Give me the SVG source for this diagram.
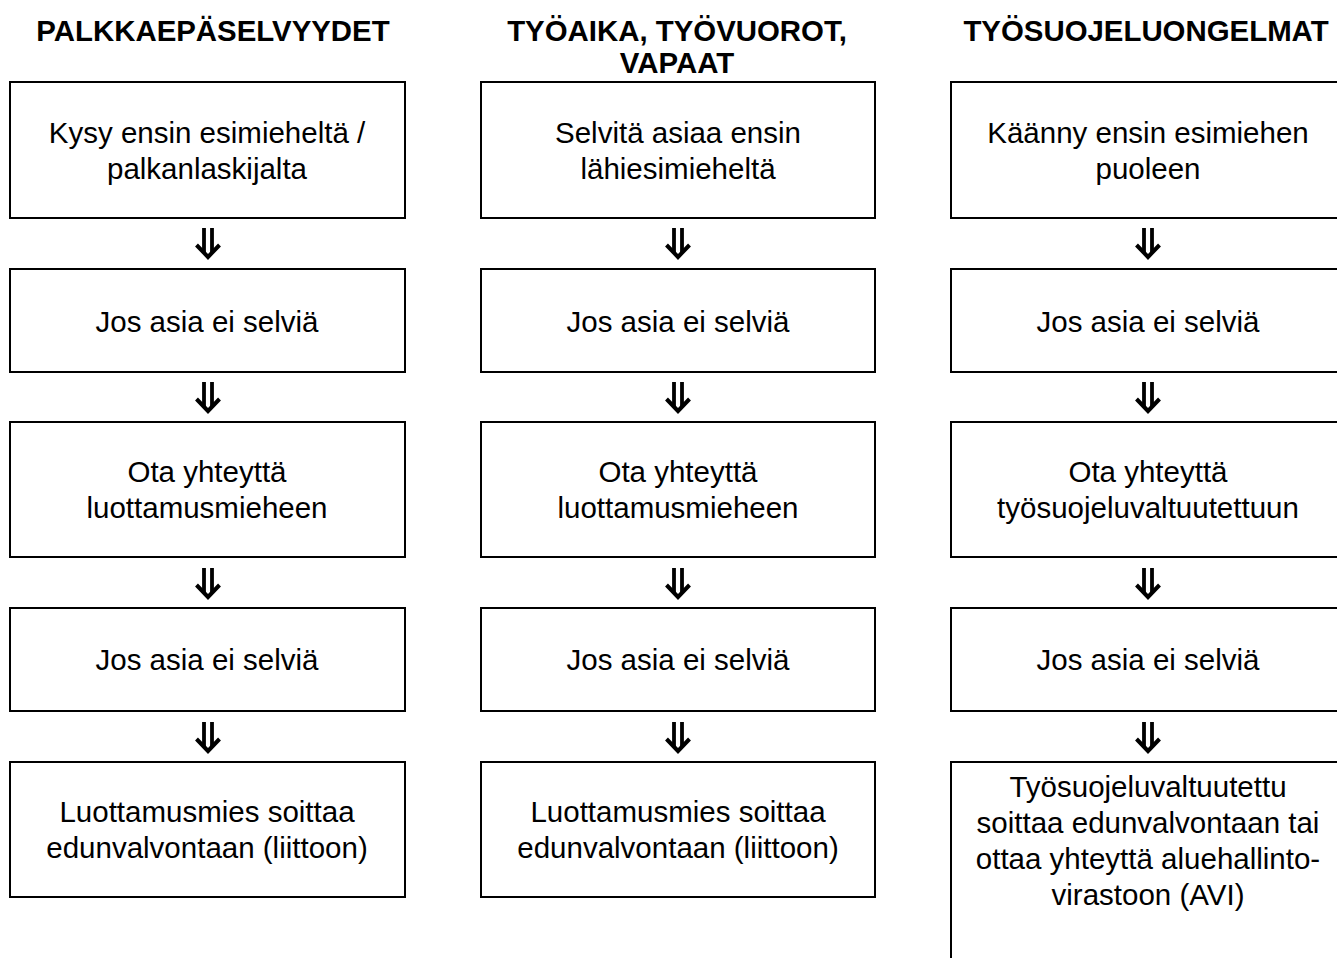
<svg xmlns="http://www.w3.org/2000/svg" width="1337" height="958" viewBox="0 0 1337 958">
<defs>
<style>
.box{fill:#fff;stroke:#000;stroke-width:2}
.t{font-family:"Liberation Sans",Arial,sans-serif;font-size:29.5px;fill:#000;text-anchor:middle}
.h{font-family:"Liberation Sans",Arial,sans-serif;font-size:29.4px;font-weight:bold;fill:#000;text-anchor:middle}
.bar{stroke:#000;stroke-width:3.8;fill:none}
.head{stroke:#000;stroke-width:4;fill:none;stroke-linejoin:miter;stroke-linecap:butt}
</style>
<g id="arrow">
<path class="bar" d="M-4 0V25M4 0V25"/>
<path class="head" d="M-11.5 17L0 29L11.5 17"/>
</g>
</defs>
<rect width="1337" height="958" fill="#fff"/>
<g id="headers">
<text class="h" x="213" y="41">PALKKAEPÄSELVYYDET</text>
<text class="h" x="677" y="41">TYÖAIKA, TYÖVUOROT,</text>
<text class="h" x="677" y="72.5">VAPAAT</text>
<text class="h" x="1146" y="41">TYÖSUOJELUONGELMAT</text>
</g>
<g id="connectors">
<use href="#arrow" x="208" y="228"/>
<use href="#arrow" x="208" y="382"/>
<use href="#arrow" x="208" y="568"/>
<use href="#arrow" x="208" y="722"/>
<use href="#arrow" x="678" y="228"/>
<use href="#arrow" x="678" y="382"/>
<use href="#arrow" x="678" y="568"/>
<use href="#arrow" x="678" y="722"/>
<use href="#arrow" x="1148" y="228"/>
<use href="#arrow" x="1148" y="382"/>
<use href="#arrow" x="1148" y="568"/>
<use href="#arrow" x="1148" y="722"/>
</g>
<g id="c1r1"><rect class="box" x="10" y="82" width="395" height="136"/><text class="t" x="207" y="143">Kysy ensin esimieheltä /</text><text class="t" x="207" y="179">palkanlaskijalta</text></g>
<g id="c1r2"><rect class="box" x="10" y="269" width="395" height="103"/><text class="t" x="207" y="332">Jos asia ei selviä</text></g>
<g id="c1r3"><rect class="box" x="10" y="422" width="395" height="135"/><text class="t" x="207" y="482">Ota yhteyttä</text><text class="t" x="207" y="518">luottamusmieheen</text></g>
<g id="c1r4"><rect class="box" x="10" y="608" width="395" height="103"/><text class="t" x="207" y="670">Jos asia ei selviä</text></g>
<g id="c1r5"><rect class="box" x="10" y="762" width="395" height="135"/><text class="t" x="207" y="822">Luottamusmies soittaa</text><text class="t" x="207" y="858">edunvalvontaan (liittoon)</text></g>
<g id="c2r1"><rect class="box" x="481" y="82" width="394" height="136"/><text class="t" x="678" y="143">Selvitä asiaa ensin</text><text class="t" x="678" y="179">lähiesimieheltä</text></g>
<g id="c2r2"><rect class="box" x="481" y="269" width="394" height="103"/><text class="t" x="678" y="332">Jos asia ei selviä</text></g>
<g id="c2r3"><rect class="box" x="481" y="422" width="394" height="135"/><text class="t" x="678" y="482">Ota yhteyttä</text><text class="t" x="678" y="518">luottamusmieheen</text></g>
<g id="c2r4"><rect class="box" x="481" y="608" width="394" height="103"/><text class="t" x="678" y="670">Jos asia ei selviä</text></g>
<g id="c2r5"><rect class="box" x="481" y="762" width="394" height="135"/><text class="t" x="678" y="822">Luottamusmies soittaa</text><text class="t" x="678" y="858">edunvalvontaan (liittoon)</text></g>
<g id="c3r1"><rect class="box" x="951" y="82" width="394" height="136"/><text class="t" x="1148" y="143">Käänny ensin esimiehen</text><text class="t" x="1148" y="179">puoleen</text></g>
<g id="c3r2"><rect class="box" x="951" y="269" width="394" height="103"/><text class="t" x="1148" y="332">Jos asia ei selviä</text></g>
<g id="c3r3"><rect class="box" x="951" y="422" width="394" height="135"/><text class="t" x="1148" y="482">Ota yhteyttä</text><text class="t" x="1148" y="518">työsuojeluvaltuutettuun</text></g>
<g id="c3r4"><rect class="box" x="951" y="608" width="394" height="103"/><text class="t" x="1148" y="670">Jos asia ei selviä</text></g>
<g id="c3r5"><rect class="box" x="951" y="762" width="394" height="220"/><text class="t" x="1148" y="797">Työsuojeluvaltuutettu</text><text class="t" x="1148" y="833">soittaa edunvalvontaan tai</text><text class="t" x="1148" y="869">ottaa yhteyttä aluehallinto-</text><text class="t" x="1148" y="905">virastoon (AVI)</text></g>
</svg>
